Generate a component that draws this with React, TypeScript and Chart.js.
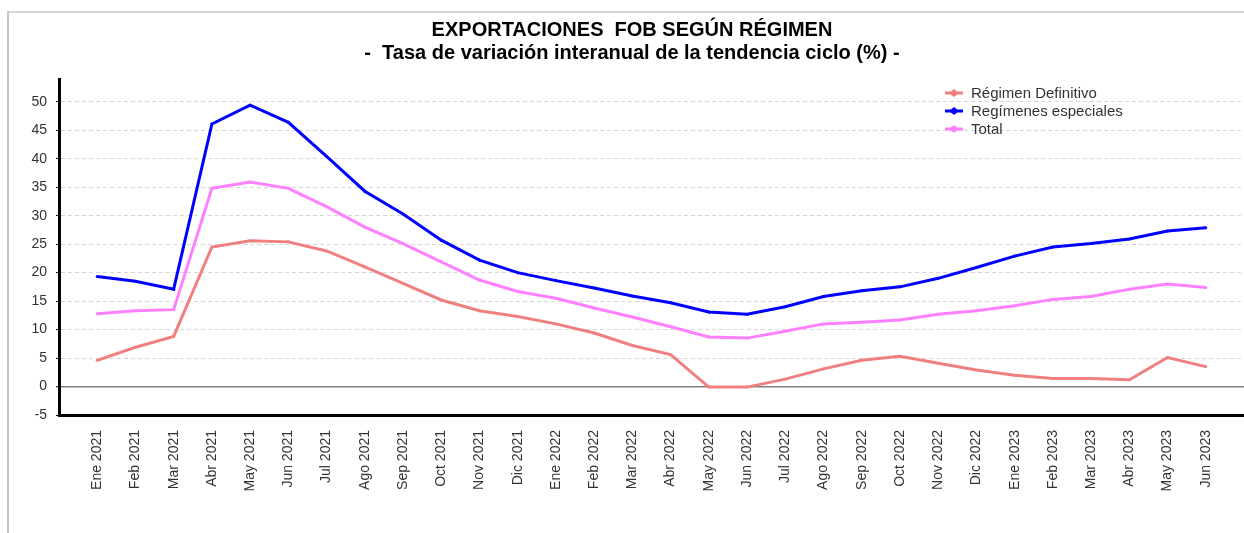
import React, { useEffect, useRef } from "react";
import { Chart, registerables } from "chart.js";

Chart.register(...registerables);

const categories = [
  "Ene 2021", "Feb 2021", "Mar 2021", "Abr 2021", "May 2021", "Jun 2021",
  "Jul 2021", "Ago 2021", "Sep 2021", "Oct 2021", "Nov 2021", "Dic 2021",
  "Ene 2022", "Feb 2022", "Mar 2022", "Abr 2022", "May 2022", "Jun 2022",
  "Jul 2022", "Ago 2022", "Sep 2022", "Oct 2022", "Nov 2022", "Dic 2022",
  "Ene 2023", "Feb 2023", "Mar 2023", "Abr 2023", "May 2023", "Jun 2023",
];

const regimenDefinitivo = [
  4.6, 6.9, 8.8, 24.5, 25.6, 25.4, 23.8, 21.0, 18.1, 15.2, 13.3, 12.3,
  11.0, 9.4, 7.2, 5.6, -0.1, -0.1, 1.3, 3.1, 4.6, 5.3, 4.1, 2.9,
  2.0, 1.4, 1.4, 1.2, 5.1, 3.5,
];

const regimenesEspeciales = [
  19.3, 18.5, 17.1, 46.1, 49.4, 46.4, 40.4, 34.3, 30.3, 25.7, 22.2, 20.0,
  18.6, 17.3, 15.9, 14.7, 13.1, 12.7, 14.0, 15.8, 16.8, 17.5, 19.0, 20.9,
  22.9, 24.5, 25.1, 25.9, 27.3, 27.9,
];

const total = [
  12.8, 13.3, 13.5, 34.8, 35.9, 34.8, 31.6, 28.0, 25.1, 21.9, 18.7, 16.7,
  15.5, 13.8, 12.2, 10.5, 8.7, 8.5, 9.7, 11.0, 11.3, 11.7, 12.7, 13.3,
  14.2, 15.3, 15.8, 17.1, 18.0, 17.4,
];

const seriesNames = ["Régimen Definitivo", "Regímenes especiales", "Total"];
const yTickValues = [-5, 0, 5, 10, 15, 20, 25, 30, 35, 40, 45, 50];
const titleLines = [
  "EXPORTACIONES  FOB SEGÚN RÉGIMEN",
  "-  Tasa de variación interanual de la tendencia ciclo (%) -",
];

const COLORS = ["#f08080", "#0000ff", "#ff80ff"];
const FONT = '"Liberation Sans", Arial, sans-serif';
const LEFT_PAD = 16;

const legendPlugin = {
  id: "insideLegend",
  afterDraw(chart: any) {
    const ctx = chart.ctx;
    const x0 = 945;
    const y0 = 93;
    const gap = 18;
    chart.data.datasets.forEach((ds: any, i: number) => {
      const y = y0 + i * gap;
      ctx.save();
      ctx.strokeStyle = ds.borderColor;
      ctx.lineWidth = 3;
      ctx.beginPath();
      ctx.moveTo(x0, y);
      ctx.lineTo(x0 + 18, y);
      ctx.stroke();
      ctx.fillStyle = ds.borderColor;
      ctx.beginPath();
      ctx.moveTo(x0 + 9, y - 4);
      ctx.lineTo(x0 + 14, y);
      ctx.lineTo(x0 + 9, y + 4);
      ctx.lineTo(x0 + 4, y);
      ctx.closePath();
      ctx.fill();
      ctx.fillStyle = "#333";
      ctx.font = `15px ${FONT}`;
      ctx.textBaseline = "middle";
      ctx.textAlign = "left";
      ctx.fillText(ds.label, x0 + 26, y + 1);
      ctx.restore();
    });
  },
};

export default function App() {
  const canvasRef = useRef<HTMLCanvasElement | null>(null);

  useEffect(() => {
    if (!canvasRef.current) return;
    const seriesValues = [regimenDefinitivo, regimenesEspeciales, total];
    const chart = new Chart(canvasRef.current, {
      type: "line",
      data: {
        datasets: seriesValues.map((vals, s) => ({
          label: seriesNames[s],
          data: vals.map((v, i) => ({ x: i, y: v })),
          borderColor: COLORS[s],
          backgroundColor: COLORS[s],
          borderWidth: 3,
          pointRadius: 1.5,
          pointBorderWidth: 0,
          pointBackgroundColor: COLORS[s],
          tension: 0,
          fill: false,
        })),
      },
      options: {
        responsive: false,
        animation: false,
        layout: { padding: { left: LEFT_PAD, right: 0, top: 0, bottom: 0 } },
        plugins: {
          legend: { display: false },
          tooltip: { enabled: false },
          title: {
            display: true,
            text: titleLines,
            color: "#000",
            font: { family: FONT, size: 20, weight: "bold", lineHeight: 1.15 },
            padding: { top: 19, bottom: 14 },
          },
        },
        scales: {
          x: {
            type: "linear",
            min: -1,
            max: categories.length,
            afterFit: (scale: any) => {
              scale.height = 118;
            },
            grid: { display: false },
            border: { display: true, color: "#000", width: 3 },
            ticks: {
              stepSize: 1,
              autoSkip: false,
              maxRotation: 90,
              minRotation: 90,
              padding: 7,
              color: "#333",
              font: { family: FONT, size: 14 },
              callback: (v: any) => {
                const idx = Number(v);
                return Number.isInteger(idx) && categories[idx] ? categories[idx] : null;
              },
            },
          },
          y: {
            min: -5,
            max: 54,
            afterFit: (scale: any) => {
              scale.width = 59 - LEFT_PAD;
            },
            afterBuildTicks: (scale: any) => {
              scale.ticks = yTickValues.map((v) => ({ value: v }));
            },
            grid: {
              drawTicks: true,
              tickLength: 3,
              tickColor: "#000",
              tickWidth: 1,
              color: (c: any) =>
                c.tick && c.tick.value === 0
                  ? "#7f7f7f"
                  : c.tick && c.tick.value === -5
                  ? "rgba(0,0,0,0)"
                  : "#d6d6d6",
              lineWidth: (c: any) => (c.tick && c.tick.value === 0 ? 1.5 : 1),
            },
            border: {
              display: true,
              color: "#000",
              width: 3,
              dash: (c: any) => (c.tick && c.tick.value === 0 ? [] : [4, 3]),
            },
            ticks: {
              padding: 9,
              color: "#333",
              font: { family: FONT, size: 14 },
              callback: (v: any) => String(v),
            },
          },
        },
      },
      plugins: [legendPlugin],
    } as any);
    return () => chart.destroy();
  }, []);

  return (
    <div
      style={{
        position: "fixed",
        left: 0,
        top: 0,
        width: 1244,
        height: 533,
        background: "#fff",
        overflow: "hidden",
      }}
    >
      <div
        style={{
          position: "absolute",
          left: 8,
          top: 11,
          width: 1236,
          height: 2,
          background: "#d6d6d6",
        }}
      />
      <div
        style={{
          position: "absolute",
          left: 7,
          top: 11,
          width: 2,
          height: 522,
          background: "#c4c4c4",
        }}
      />
      <canvas
        ref={canvasRef}
        width={1248}
        height={533}
        style={{ position: "absolute", left: 0, top: 0, width: 1248, height: 533 }}
      />
    </div>
  );
}
